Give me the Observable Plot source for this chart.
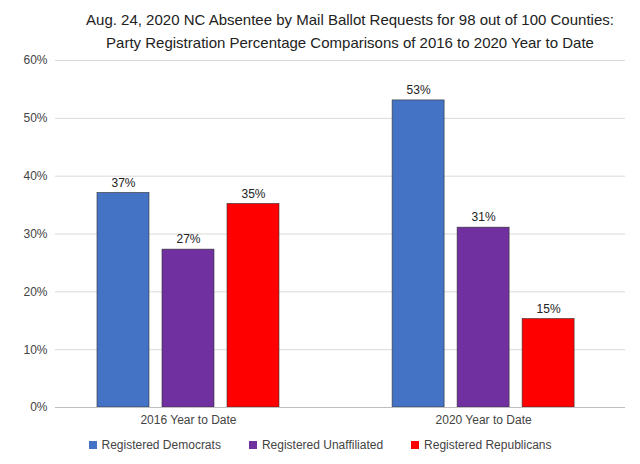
<!DOCTYPE html>
<html><head>
<script src="https://cdn.jsdelivr.net/npm/d3@7"></script>
<script src="https://cdn.jsdelivr.net/npm/@observablehq/plot@0.6"></script>
<style>
body{margin:0;background:#fff;font-family:"Liberation Sans",Arial,sans-serif;}
#wrap{position:relative;width:640px;height:464px;}
#title{position:absolute;top:8px;left:60px;width:580px;text-align:center;font-size:15px;line-height:23px;color:#222;}
#legend{position:absolute;top:438px;left:0;width:640px;text-align:center;font-size:12px;color:#444;}
#legend span{display:inline-block;margin:0 14px;}
#legend i{display:inline-block;width:8px;height:8px;margin-right:5px;}
</style>
</head><body>
<div id="wrap">
<div id="chart"></div>
<div id="title">Aug. 24, 2020 NC Absentee by Mail Ballot Requests for 98 out of 100 Counties:<br>Party Registration Percentage Comparisons of 2016 to 2020 Year to Date</div>
<div id="legend"></div>
</div>
<script>
const periods = ["2016 Year to Date", "2020 Year to Date"];
const parties = ["Registered Democrats", "Registered Unaffiliated", "Registered Republicans"];
const colors = ["#4472C4", "#7030A0", "#FF0000"];
const values2016 = [37.1, 27.3, 35.2];
const values2020 = [53.1, 31.1, 15.3];
const groupOffset = [0, 4.54]; // slot position of each period group
const data = [];
[values2016, values2020].forEach((vals, i) => vals.forEach((v, j) => data.push({period: periods[i], party: parties[j], value: v, pos: groupOffset[i] + j})));
const labels = periods.map((p, i) => ({period: p, pos: groupOffset[i] + 1}));

const chart = Plot.plot({
  width: 640, height: 464,
  marginTop: 60, marginBottom: 57, marginLeft: 55, marginRight: 15,
  style: {fontFamily: "Liberation Sans, Arial, sans-serif", fontSize: "12px", color: "#444"},
  x: {domain: [-1.046, 7.723], axis: null},
  y: {domain: [0, 60], ticks: [0,10,20,30,40,50,60], tickFormat: d => d + "%", label: null, tickSize: 0, tickPadding: 8},
  color: {domain: parties, range: colors},
  marks: [
    Plot.gridY({ticks: [10,20,30,40,50,60], stroke: "#d9d9d9", strokeOpacity: 1}),
    Plot.rectY(data, {x1: d => d.pos - 0.4, x2: d => d.pos + 0.4, y: "value", fill: "party", stroke: "#333", strokeWidth: 0.6}),
    Plot.text(data, {x: "pos", y: "value", text: d => Math.round(d.value) + "%", dy: -10, fill: "#222", fontSize: 12}),
    Plot.text(labels, {x: "pos", text: "period", frameAnchor: "bottom", dy: 16, fill: "#444", fontSize: 12}),
    Plot.ruleY([0], {stroke: "#bfbfbf"})
  ]
});
document.getElementById("chart").appendChild(chart);
document.getElementById("legend").innerHTML = parties.map((p, i) => `<span><i style="background:${colors[i]}"></i>${p}</span>`).join("");
</script>
</body></html>
